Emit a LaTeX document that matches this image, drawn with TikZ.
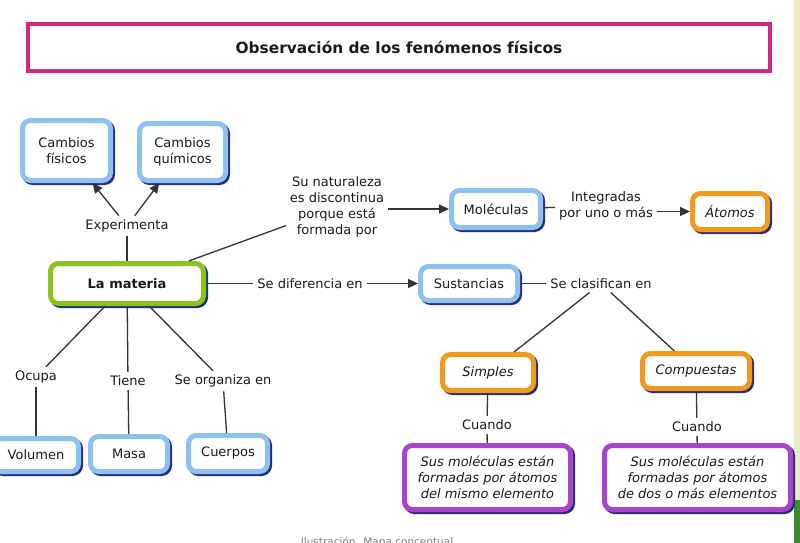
\documentclass[tikz,border=0pt]{standalone}
\usepackage{fontspec}
\setmainfont{DejaVu Sans}
\usetikzlibrary{arrows.meta,shadows,calc}
\definecolor{bblue}{HTML}{8EC0F2}
\definecolor{bgreen}{HTML}{8CC21E}
\definecolor{borange}{HTML}{F29A1E}
\definecolor{bpurple}{HTML}{A844CC}
\definecolor{bpink}{HTML}{D02A7C}
\definecolor{shdw}{HTML}{26307A}
\definecolor{lncol}{HTML}{333333}
\definecolor{txt}{HTML}{1A1A1A}
\definecolor{stripA}{HTML}{EEEBC8}
\definecolor{stripB}{HTML}{3E8A2C}
\begin{document}
\begin{tikzpicture}[x=1pt,y=-1pt,
  font=\fontsize{13}{16}\selectfont, text=txt,
  box/.style={draw, line width=5pt, rounded corners=8pt, fill=white, align=center,
    inner sep=0pt, outer sep=2.5pt,
    general shadow={fill=shdw, draw=shdw, line width=5pt, shadow xshift=2pt, shadow yshift=-2pt}},
  bluebox/.style={box, draw=bblue},
  greenbox/.style={box, draw=bgreen},
  orangebox/.style={box, draw=borange, font=\fontsize{13}{16}\selectfont\itshape},
  purplebox/.style={box, draw=bpurple, font=\fontsize{13}{16}\selectfont\itshape},
  titlebox/.style={draw=bpink, line width=4pt, fill=white, inner sep=0pt,
    font=\fontsize{15.4}{18}\selectfont\bfseries},
  lab/.style={inner sep=2pt, outer sep=2pt, align=center},
  ln/.style={draw=lncol, line width=1.3pt},
  arr/.style={ln, -{Triangle[length=10pt,width=9pt]}}]
\useasboundingbox (0,0) rectangle (800,543);
\fill[white] (0,0) rectangle (800,543);
\fill[stripA] (794,0) rectangle (800,500);
\fill[stripB] (794,500) rectangle (800,543);

% title
\node[titlebox, minimum width=742pt, minimum height=47pt] (title) at (399,47.5)
  {Observación de los fenómenos físicos};

% boxes
\node[bluebox, minimum width=88pt, minimum height=60pt] (cf) at (66.5,150.5) {Cambios\\físicos};
\node[bluebox, minimum width=86pt, minimum height=57pt] (cq) at (182.5,152) {Cambios\\químicos};
\node[greenbox, minimum width=153pt, minimum height=40pt, font=\fontsize{13}{16}\selectfont\bfseries] (mat) at (127,283.5) {La materia};
\node[bluebox, minimum width=89pt, minimum height=37pt] (mol) at (496,209) {Moléculas};
\node[orangebox, minimum width=75pt, minimum height=36pt] (atom) at (730,211.5) {Átomos};
\node[bluebox, minimum width=97pt, minimum height=34pt] (sus) at (469,283.5) {Sustancias};
\node[orangebox, minimum width=91pt, minimum height=36pt] (sim) at (488,372.5) {Simples};
\node[orangebox, minimum width=107pt, minimum height=35pt] (comp) at (696,371) {Compuestas};
\node[purplebox, minimum width=166pt, minimum height=64pt] (pl) at (487.5,477.5)
  {Sus moléculas están\\formadas por átomos\\del mismo elemento};
\node[purplebox, minimum width=186pt, minimum height=64pt] (pr) at (697.5,477.5)
  {Sus moléculas están\\formadas por átomos\\de dos o más elementos};
\node[bluebox, minimum width=85pt, minimum height=33pt] (vol) at (36,455) {Volumen};
\node[bluebox, minimum width=77pt, minimum height=35pt] (masa) at (129,454) {Masa};
\node[bluebox, minimum width=79pt, minimum height=36pt] (cue) at (228,453.5) {Cuerpos};

% labels
\node[lab] (exp) at (127,226) {Experimenta};
\node[lab] (nat) at (337,207) {Su naturaleza\\es discontinua\\porque está\\formada por};
\node[lab] (int) at (606,206) {Integradas\\por uno o más};
\node[lab] (dif) at (310,283.5) {Se diferencia en};
\node[lab] (cla) at (601,283.5) {Se clasifican en};
\node[lab] (cu1) at (487,425) {Cuando};
\node[lab] (cu2) at (697,427) {Cuando};
\node[lab] (ocu) at (36,377) {Ocupa};
\node[lab] (tie) at (128,381) {Tiene};
\node[lab] (org) at (223,381) {Se organiza en};

% caption
\node[anchor=base, inner sep=0pt, text=gray, font=\fontsize{10.5}{12}\selectfont] (cap) at (377,545)
  {Ilustración. Mapa conceptual};

% connectors
\draw[arr] (exp) -- (cf);
\draw[arr] (exp) -- (cq);
\draw[ln] (mat) -- (exp);
\draw[ln] (mat) -- (nat);
\draw[arr] (nat.east |- mol.west) -- (mol.west);
\draw[ln] (mol) -- (int);
\draw[arr] (int.east |- atom.west) -- (atom.west);
\draw[ln] (mat.east) -- (dif.west);
\draw[arr] (dif.east) -- (sus.west);
\draw[ln] (sus.east) -- (cla.west);
\draw[ln] (cla) -- (sim);
\draw[ln] (cla) -- (comp);
\draw[ln] (sim) -- (cu1);
\draw[ln] (cu1) -- (pl);
\draw[ln] (comp) -- (cu2);
\draw[ln] (cu2) -- (pr);
\draw[ln] (mat) -- (ocu);
\draw[ln] (ocu) -- (vol);
\draw[ln] (mat) -- (tie);
\draw[ln] (tie) -- (masa);
\draw[ln] (mat) -- (org);
\draw[ln] (org) -- (cue);
\end{tikzpicture}
\end{document}
